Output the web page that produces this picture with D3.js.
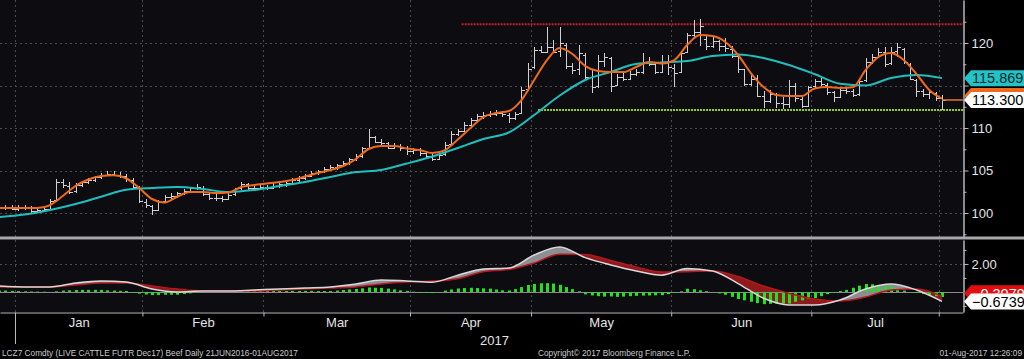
<!DOCTYPE html>
<html><head><meta charset="utf-8">
<script src="https://cdn.jsdelivr.net/npm/d3@7"></script>
<style>
html,body{margin:0;padding:0;background:#000;}
svg{display:block;}
text{font-family:"Liberation Sans",Arial,sans-serif;}
</style></head><body>
<svg id="chart" width="1024" height="359"></svg>
<script>
// ---- DATA (index 0 = 28-Dec-2016, one entry per trading day) ----
const ohlc = [
[100.5,100.9,100.3,100.6],[100.6,100.9,100.4,100.7],[100.7,100.9,100.3,100.5],
[100.5,100.9,100.2,100.6],[100.6,100.9,100.3,100.7],[100.7,100.8,99.9,100.2],[100.2,100.6,100.0,100.3],
[100.3,100.7,100.1,100.5],[100.5,101.6,100.4,101.4],[101.5,104.0,101.4,103.7],[103.7,104.0,102.9,103.3],
[103.2,103.6,102.2,102.5],[102.6,103.5,102.4,103.3],[103.3,103.8,103.1,103.6],[103.6,104.1,103.4,103.9],
[103.9,104.4,103.7,104.2],[104.2,104.7,104.0,104.5],[104.5,104.9,104.3,104.6],[104.6,104.9,104.3,104.5],
[104.5,104.8,104.1,104.3],[104.3,104.6,103.7,104.0],[103.9,104.1,102.8,103.1],[103.0,103.2,101.2,101.4],
[101.3,101.6,100.6,100.9],[100.8,101.0,99.8,100.3],[100.4,101.5,100.2,101.3],[101.4,102.1,101.2,101.9],
[101.9,102.3,101.7,102.0],[102.0,102.5,101.8,102.3],[102.3,102.8,102.1,102.6],[102.6,103.1,102.4,102.9],
[102.9,103.4,102.7,103.1],[103.0,103.2,102.0,102.2],[102.2,102.4,101.5,101.8],[101.8,102.2,101.4,101.8],
[101.8,102.0,101.3,101.6],[101.6,102.3,101.5,102.1],[102.2,103.0,102.0,102.9],[102.9,103.6,102.7,103.4],
[103.4,103.5,102.7,103.0],[103.0,103.3,102.6,102.9],[102.9,103.4,102.7,103.1],
[103.1,103.3,102.7,103.0],[103.0,103.5,102.9,103.2],[103.2,103.6,103.0,103.4],[103.4,103.7,103.1,103.5],
[103.5,104.1,103.4,103.9],[103.9,104.3,103.7,104.1],[104.1,104.6,103.9,104.4],[104.4,104.9,104.2,104.7],
[104.7,105.1,104.5,104.9],[104.9,105.4,104.7,105.2],[105.2,105.6,105.0,105.4],[105.4,105.8,105.1,105.6],
[105.6,106.1,105.4,105.9],[105.9,106.5,105.7,106.3],[106.3,106.9,106.1,106.7],[106.7,107.8,106.5,107.6],
[107.6,109.9,107.5,109.0],[108.9,109.1,108.2,108.4],[108.4,108.7,107.9,108.2],[108.2,108.4,107.5,107.7],
[107.7,108.2,107.5,107.9],[107.9,108.1,107.3,107.7],[107.7,107.9,106.8,107.3],
[107.3,107.7,107.0,107.4],[107.4,107.6,106.7,107.1],[107.1,107.3,106.3,106.7],[106.6,106.9,106.1,106.4],
[106.4,107.1,106.3,106.8],[106.9,108.3,106.7,108.0],[108.1,109.6,107.9,109.3],[109.3,109.9,109.1,109.6],
[109.6,110.7,109.5,110.4],[110.4,111.2,110.2,110.9],[110.9,111.7,110.7,111.4],[111.4,111.9,111.1,111.5],
[111.5,112.0,111.3,111.7],[111.7,112.1,111.4,111.8],[111.8,112.0,111.3,111.6],[111.5,111.8,110.6,111.2],
[111.2,111.9,111.0,111.6],[111.8,114.8,111.6,114.5],[114.6,117.6,114.4,117.0],
[117.2,119.5,117.0,119.2],[119.2,119.6,118.8,119.0],[119.0,121.9,118.9,119.5],[119.5,120.4,118.9,119.0],
[119.1,121.9,118.3,120.0],[119.8,120.0,116.9,117.3],[117.3,117.6,116.4,116.8],[116.9,119.8,116.2,118.8],
[118.6,118.8,115.8,116.0],[116.0,116.8,114.1,114.8],[114.9,118.6,114.7,117.9],[117.9,118.8,117.2,118.3],
[118.2,118.4,114.2,115.0],[115.1,116.4,115.0,116.0],[116.0,116.5,115.5,115.8],[115.8,116.7,115.6,116.3],
[116.3,117.0,116.1,116.6],[116.6,118.8,116.4,117.8],[117.8,118.4,117.3,117.5],[117.5,117.6,116.4,116.6],
[116.6,118.6,116.5,117.8],[117.8,118.6,116.2,117.2],
[117.1,117.5,114.8,116.5],[116.6,119.0,116.5,118.8],[118.9,121.2,118.8,120.9],[120.9,122.7,120.6,121.3],
[121.3,122.8,119.6,122.0],[120.5,120.8,119.2,119.6],[119.6,120.8,119.4,120.2],[120.2,120.4,119.1,119.7],
[119.7,120.6,118.9,119.4],[119.3,119.6,118.2,118.5],[118.5,118.6,116.5,117.0],[116.9,117.0,114.9,115.2],
[115.2,116.3,115.0,115.8],[115.9,116.2,113.6,113.8],[113.8,114.3,112.4,113.2],[113.2,114.5,113.0,114.0],
[114.0,114.1,112.4,113.0],[113.0,113.6,112.2,112.8],[112.8,115.6,112.4,115.0],[115.0,115.3,113.1,113.5],
[113.4,113.6,112.3,112.6],[112.6,115.0,112.5,114.8],
[114.9,115.8,114.7,115.5],[115.5,115.9,114.9,115.2],[115.1,115.3,113.9,114.2],[114.2,114.4,113.1,113.6],
[113.6,114.8,113.5,114.5],[114.5,114.8,114.0,114.3],[114.3,114.6,113.6,113.9],[114.0,115.8,113.8,115.5],
[115.6,118.2,115.4,117.8],[117.8,118.7,117.5,118.4],[118.4,119.4,118.2,118.9],[118.9,119.5,117.2,117.5],
[117.6,119.5,117.4,119.0],[119.1,120.0,118.3,119.5],[119.3,119.4,117.5,117.8],[117.5,117.6,115.6,115.8],
[115.7,115.8,113.7,114.3],[114.3,114.6,113.6,114.0],[114.0,114.6,113.4,114.2],[114.1,114.2,113.2,113.5],
[113.5,113.9,112.1,113.3]
];

// fast moving average (orange), read every 2 trading days
const fastIdx = [0,2,4,6,8,10,12,14,16,18,20,22,24,26,28,30,32,34,36,38,40,42,44,46,48,50,52,54,56,58,60,62,64,66,68,70,72,74,
  76,78,80,82,84,86,88,90,92,94,96,98,100,102,104,106,108,110,112,114,116,118,120,122,124,126,128,130,132,134,136,138,140,142,144,146,148];
const fastMA = [100.59,100.59,100.59,100.59,100.94,102.0,103.18,103.94,104.35,104.44,104.06,102.94,101.65,101.24,101.94,102.47,102.47,102.35,102.41,103.06,
  103.29,103.47,103.65,103.88,104.29,104.71,105.06,105.53,106.35,107.53,107.88,107.88,107.59,107.41,107.06,107.41,108.65,110.0,
  111.29,111.76,112.0,113.29,115.65,118.0,119.41,118.71,117.29,116.71,116.59,116.59,117.18,117.76,117.59,118.0,119.76,120.94,120.82,120.12,
  118.59,116.47,114.82,113.88,113.76,113.76,114.65,114.82,114.71,114.8,116.82,118.35,118.82,118.0,116.35,114.47,113.45];

// slow moving average (teal) and MACD lines, read every 4 trading days
const slowIdx = [0,4,8,12,16,20,24,28,32,36,40,44,48,52,56,60,64,68,72,76,80,84,88,92,96,100,104,108,112,116,120,124,128,132,136,140,144,148];
const slowMA = [99.53,99.82,100.35,101.06,101.92,102.74,102.94,103.06,102.82,102.47,102.71,103.18,103.65,104.24,104.82,105.06,105.82,106.65,
  107.65,108.71,109.47,111.53,113.82,115.65,116.59,117.53,117.71,117.88,118.47,118.65,118.24,117.41,116.35,115.2,115.0,115.88,116.24,115.87];
const macdLine = [0.43,0.36,0.36,0.64,0.79,0.71,0.21,0.0,0.07,0.07,0.14,0.21,0.29,0.36,0.57,0.86,0.79,0.7,1.2,1.64,1.71,2.64,3.21,2.45,
  1.93,1.5,1.2,1.68,1.5,0.6,-0.45,-0.93,-0.93,-0.57,0.21,0.57,0.14,-0.67];
const signalLine = [0.36,0.36,0.36,0.5,0.64,0.64,0.43,0.21,0.07,0.07,0.07,0.14,0.21,0.29,0.36,0.57,0.71,0.78,0.95,1.45,1.6,2.07,2.7,2.67,
  2.25,1.78,1.43,1.45,1.5,1.1,0.42,-0.1,-0.5,-0.64,-0.36,0.14,0.21,-0.31];
// MACD histogram, one per trading day
const histogram = [
0.1,0.1,0.08,0.07, 0.05,0.04,0.03,0.02, 0.0,0.05,0.1,0.12, 0.14,0.15,0.15,0.15, 0.15,0.12,0.1,0.08,
0.07,-0.05,-0.12,-0.18, -0.22,-0.22,-0.2,-0.2, -0.2,-0.15,-0.1,-0.05, 0.0,0.0,0.0,0.0, 0.0,0.02,0.04,0.06,
0.07,0.07,0.07,0.07, 0.07,0.07,0.08,0.08, 0.08,0.08,0.07,0.07, 0.07,0.1,0.14,0.18, 0.21,0.26,0.32,0.3,
0.29,0.24,0.18,0.12, 0.08,0.02,-0.04,-0.06, -0.08,-0.02,0.1,0.18, 0.25,0.28,0.3,0.28, 0.26,0.24,0.18,0.12,
0.11,0.2,0.35,0.5, 0.57,0.62,0.63,0.6, 0.51,0.35,0.2,0.05, -0.17,-0.25,-0.3,-0.33, -0.32,-0.35,-0.33,-0.3,
-0.28,-0.26,-0.25,-0.24, -0.23,-0.15,-0.05,0.05, 0.23,0.2,0.12,0.06, 0.0,-0.1,-0.2,-0.35, -0.5,-0.6,-0.7,-0.8,
-0.87,-0.85,-0.83,-0.83, -0.83,-0.7,-0.6,-0.5, -0.43,-0.3,-0.15,-0.03, 0.07,0.15,0.3,0.45, 0.57,0.55,0.5,0.45,
0.43,0.2,0.1,-0.02, -0.07,-0.15,-0.22,-0.3, -0.36
];

const monthLabels = ["Jan","Feb","Mar","Apr","May","Jun","Jul"];
const monthStartIdx = [3,23,42,65,84,106,128,148];   // first trading day of each month (Aug 1 = 148)
const priceTicks = [100,105,110,115,120];
const priceMinor = [97.5,102.5,107.5,112.5,117.5,122.5];
const macdTicks = [2];
const macdMinor = [-1,1,3];
const resistance = {level:122.2, fromIdx:72.6};
const support = {level:112.12, fromIdx:84.6};
const lastPrice = 113.3, lastFast = 113.45, lastSlow = 115.869, lastMacd = -0.6739, lastSignal = -0.3079;
const yearLabel = "2017";
const footerLeft = "LCZ7 Comdty (LIVE CATTLE FUTR  Dec17) Beef  Daily 21JUN2016-01AUG2017";
const footerMid = "Copyright\u00A9 2017 Bloomberg Finance L.P.";
const footerRight = "01-Aug-2017 12:26:09";

// ---- LAYOUT ----
const W = 1024, H = 359, PR = 963;
const svg = d3.select("#chart");
const x = d3.scaleLinear().domain([0.145, 151.3]).range([0, PR]);
const yP = d3.scaleLinear().domain([97.18, 125.06]).range([237, 0]);
const yM = d3.scaleLinear().domain([-1.43, 3.71]).range([312, 240]);

svg.append("rect").attr("width", W).attr("height", H).attr("fill", "#000");
svg.append("rect").attr("x",0).attr("y",0).attr("width",PR).attr("height",237).attr("fill","#0c0c11");
svg.append("rect").attr("x",0).attr("y",240).attr("width",PR).attr("height",72).attr("fill","#0c0c11");

const defs = svg.append("defs");
defs.append("clipPath").attr("id","clipTop").append("rect").attr("x",0).attr("y",0).attr("width",PR).attr("height",237);
defs.append("clipPath").attr("id","clipLow").append("rect").attr("x",0).attr("y",240).attr("width",PR).attr("height",72);

// grid
const grid = svg.append("g").attr("shape-rendering","crispEdges");
grid.selectAll("line.v").data(monthStartIdx).join("line")
  .attr("x1", d => Math.round(x(d-0.5))+0.5).attr("x2", d => Math.round(x(d-0.5))+0.5)
  .attr("y1", 0).attr("y2", 312).attr("stroke","#4a4a52").attr("stroke-dasharray","2,3");
grid.selectAll("line.hp").data(priceTicks).join("line")
  .attr("x1",0).attr("x2",PR).attr("y1", d=>Math.round(yP(d))+0.5).attr("y2", d=>Math.round(yP(d))+0.5)
  .attr("stroke","#4a4a52").attr("stroke-dasharray","2,3");
grid.selectAll("line.hm").data(macdTicks).join("line")
  .attr("x1",0).attr("x2",PR).attr("y1", d=>Math.round(yM(d))+0.5).attr("y2", d=>Math.round(yM(d))+0.5)
  .attr("stroke","#4a4a52").attr("stroke-dasharray","2,3");

// ---- top panel ----
const topG = svg.append("g").attr("clip-path","url(#clipTop)");
topG.append("line").attr("x1", x(resistance.fromIdx)).attr("x2", PR)
  .attr("y1", yP(resistance.level)).attr("y2", yP(resistance.level))
  .attr("stroke","#c41e2a").attr("stroke-width",2).attr("stroke-dasharray","2,1");
topG.append("line").attr("x1", x(support.fromIdx)).attr("x2", PR)
  .attr("y1", yP(support.level)).attr("y2", yP(support.level))
  .attr("stroke","#9ad01c").attr("stroke-width",2).attr("stroke-dasharray","2,1");

const bars = topG.append("g").attr("stroke","#cfcfd4").attr("stroke-width",1).attr("shape-rendering","crispEdges");
ohlc.forEach((d,i) => {
  const cx = Math.round(x(i)) + 0.5;
  bars.append("line").attr("x1",cx).attr("x2",cx).attr("y1",yP(d[1])).attr("y2",yP(d[2]));
  bars.append("line").attr("x1",cx-3).attr("x2",cx).attr("y1",Math.round(yP(d[0]))+0.5).attr("y2",Math.round(yP(d[0]))+0.5);
  bars.append("line").attr("x1",cx).attr("x2",cx+3).attr("y1",Math.round(yP(d[3]))+0.5).attr("y2",Math.round(yP(d[3]))+0.5);
});

const slowPts = slowIdx.map((d,i)=>[d, slowMA[i]]);
const fastPts = fastIdx.map((d,i)=>[d, fastMA[i]]);
const lineP = d3.line().x(d=>x(d[0])).y(d=>yP(d[1])).curve(d3.curveMonotoneX);
topG.append("path").attr("d", lineP(slowPts)).attr("fill","none").attr("stroke","#1fbfbf").attr("stroke-width",2);
topG.append("path").attr("d", lineP(fastPts)).attr("fill","none").attr("stroke","#f06a1e").attr("stroke-width",2);
topG.append("line").attr("x1", x(fastIdx[fastIdx.length-1])).attr("x2", PR)
  .attr("y1", yP(lastPrice)).attr("y2", yP(lastPrice)).attr("stroke","#e07a30").attr("stroke-width",1.5);

// ---- lower panel (MACD) ----
const lowG = svg.append("g").attr("clip-path","url(#clipLow)");
const mPts = slowIdx.map((d,i)=>({i:d, a:macdLine[i], b:signalLine[i]}));
const curve = d3.curveMonotoneX;
defs.append("clipPath").attr("id","clipAbove").append("path")
  .attr("d", d3.area().x(d=>x(d.i)).y0(0).y1(d=>yM(d.b)).curve(curve)(mPts));
defs.append("clipPath").attr("id","clipBelow").append("path")
  .attr("d", d3.area().x(d=>x(d.i)).y0(H).y1(d=>yM(d.b)).curve(curve)(mPts));
const lg = lowG.append("g");
lg.append("path").attr("clip-path","url(#clipAbove)")
  .attr("d", d3.area().x(d=>x(d.i)).y0(H).y1(d=>yM(d.a)).curve(curve)(mPts)).attr("fill","#8d8d93");
lg.append("path").attr("clip-path","url(#clipBelow)")
  .attr("d", d3.area().x(d=>x(d.i)).y0(0).y1(d=>yM(d.a)).curve(curve)(mPts)).attr("fill","#8e1a1c");

lowG.append("line").attr("x1",0).attr("x2",PR).attr("y1",Math.round(yM(0))+0.5).attr("y2",Math.round(yM(0))+0.5)
  .attr("stroke","#8a8a8a").attr("stroke-width",1);
lowG.append("g").selectAll("rect").data(histogram).join("rect")
  .attr("x",(d,i)=>Math.round(x(i))-1).attr("width",3)
  .attr("y", d=>yM(Math.max(d,0))).attr("height", d=>Math.abs(yM(d)-yM(0)))
  .attr("fill","#22e022");

const lineM = key => d3.line().x(d=>x(d.i)).y(d=>yM(d[key])).curve(curve);
lowG.append("path").attr("d", lineM("b")(mPts)).attr("fill","none").attr("stroke","#b3181c").attr("stroke-width",1.5);
lowG.append("path").attr("d", lineM("a")(mPts)).attr("fill","none").attr("stroke","#d8d8dc").attr("stroke-width",1.5);

// separator between panels
svg.append("rect").attr("x",0).attr("y",236.5).attr("width",W).attr("height",3).attr("fill","#a8a8ad");

// ---- axes ----
const axisStyle = g => {
  g.selectAll("path.domain").attr("stroke","#b8b8bd");
  g.selectAll(".tick line").attr("stroke","#b8b8bd");
  g.selectAll(".tick text").attr("fill","#e4e4e8").attr("font-size",13)
    .attr("font-family",'"Liberation Sans",Arial,sans-serif');
};
// the 115 label sits under the moving-average tag, so it carries a tick only
svg.append("g").attr("transform",`translate(${PR+0.5},0)`)
  .call(d3.axisRight(yP).tickValues(priceTicks).tickSize(5).tickSizeOuter(0).tickPadding(3)
    .tickFormat(d => Math.abs(yP(d) - yP(lastSlow)) < 12 ? "" : d3.format("d")(d)))
  .call(axisStyle);
svg.append("g").attr("transform",`translate(${PR+0.5},0)`)
  .call(d3.axisRight(yP).tickValues(priceMinor).tickSize(3).tickSizeOuter(0).tickFormat(""))
  .call(axisStyle);
svg.append("g").attr("transform",`translate(${PR+0.5},0)`)
  .call(d3.axisRight(yM).tickValues(macdTicks).tickSize(5).tickSizeOuter(0).tickPadding(3).tickFormat(d3.format(".2f")))
  .call(axisStyle);
svg.append("g").attr("transform",`translate(${PR+0.5},0)`)
  .call(d3.axisRight(yM).tickValues(macdMinor).tickSize(3).tickSizeOuter(0).tickFormat(""))
  .call(axisStyle);

// bottom axis: month boundary ticks + centred month names
svg.append("g").attr("transform","translate(0,312.5)")
  .call(d3.axisBottom(x).tickValues(monthStartIdx.map(d=>d-0.5)).tickSize(4).tickSizeOuter(0).tickFormat(""))
  .call(axisStyle);
svg.append("line").attr("x1",Math.round(x(monthStartIdx[0]-0.5))+0.5).attr("x2",Math.round(x(monthStartIdx[0]-0.5))+0.5)
  .attr("y1",313).attr("y2",344).attr("stroke","#b8b8bd");
const mids = monthLabels.map((m,k)=>(monthStartIdx[k]+monthStartIdx[k+1]-1)/2);
svg.append("g").attr("transform","translate(0,312.5)")
  .call(d3.axisBottom(x).tickValues(mids).tickSize(0).tickPadding(5).tickFormat((d,k)=>monthLabels[k]))
  .call(g=>g.select("path.domain").remove())
  .call(axisStyle);
svg.append("text").attr("x", x((monthStartIdx[3]+monthStartIdx[4]-1)/2)+24).attr("y",345)
  .attr("text-anchor","middle").attr("fill","#e4e4e8").attr("font-size",13).text(yearLabel);

// ---- value tags ----
let tagN = 0;
function tag(cy, txt, fill, color, visibleBottom) {
  const h = 16, x0 = PR + 1, tip = 7;
  const g = svg.append("g");
  g.append("path").attr("d",`M${x0},${cy} L${x0+tip},${cy-h/2} L${W},${cy-h/2} L${W},${cy+h/2} L${x0+tip},${cy+h/2} Z`)
    .attr("fill", fill);
  if (txt === null) return;
  const t = g.append("text").attr("x", x0+tip+1).attr("y", cy).attr("dy","0.36em").attr("font-size",14.5)
    .attr("fill", color).text(txt);
  if (visibleBottom !== undefined) {
    const id = "tagclip" + (tagN++);
    defs.append("clipPath").attr("id", id).append("rect")
      .attr("x", x0).attr("y", cy - h/2).attr("width", W - x0).attr("height", visibleBottom - (cy - h/2));
    t.attr("clip-path", `url(#${id})`);
  }
}
tag(yP(lastSlow), d3.format(".3f")(lastSlow), "#22c4c8", "#06262a");
tag(yP(lastPrice)-4, null, "#f06a1e", "#ffffff");          // fast-MA tag, hidden under the last-price tag
tag(yP(lastPrice), d3.format(".3f")(lastPrice), "#ffffff", "#000000");
tag(yM(lastSignal)-3, d3.format(".4f")(lastSignal), "#e01010", "#ffffff", yM(lastMacd)-8);
tag(yM(lastMacd), d3.format(".4f")(lastMacd), "#ffffff", "#000000");

// ---- footer ----
const foot = svg.append("g").attr("font-size",8.3).attr("fill","#c8c8cc");
foot.append("text").attr("x",2).attr("y",356).text(footerLeft);
foot.append("text").attr("x",538).attr("y",356).text(footerMid);
foot.append("text").attr("x",1022).attr("y",356).attr("text-anchor","end").text(footerRight);
</script>
</body></html>
